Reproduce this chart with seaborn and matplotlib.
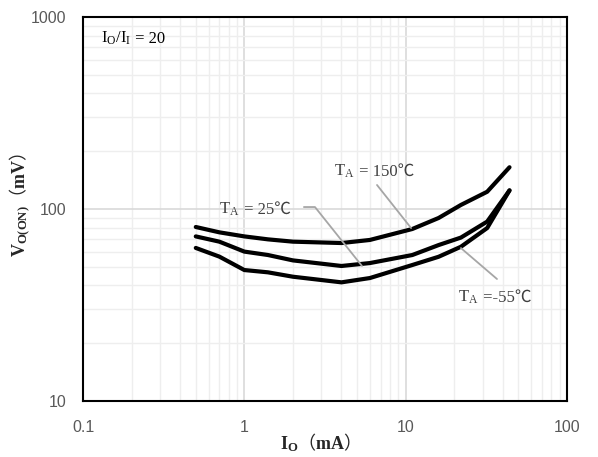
import numpy as np
import pandas as pd
import seaborn as sns
import matplotlib.pyplot as plt
from matplotlib.ticker import LogLocator, FixedLocator, NullFormatter

# values
io_ma = [0.5, 0.7, 1, 1.4, 2, 4, 6, 11, 16, 22, 32, 44]
v_150 = [80.6, 75.6, 72, 69.5, 67.6, 66.5, 69, 78.7, 89.8, 105, 123, 165]
v_25 = [72, 67.6, 60, 57.6, 54, 50.5, 52.3, 57.6, 64.9, 71, 86, 125]
v_m55 = [62.7, 56.5, 48.1, 46.8, 44.4, 41.5, 43.7, 51.1, 56.4, 63.6, 79.6, 125]
temps = ["150", "25", "-55"]

df = pd.DataFrame({
    "io": io_ma * 3,
    "v": v_150 + v_25 + v_m55,
    "temp": [t for t in temps for _ in io_ma],
})

sns.set_theme(style="white")
plt.rcParams['mathtext.fontset'] = 'custom'
plt.rcParams['mathtext.rm'] = 'Liberation Serif'
plt.rcParams['mathtext.it'] = 'Liberation Serif:italic'
plt.rcParams['mathtext.bf'] = 'Liberation Serif:bold'
plt.rcParams['mathtext.sf'] = 'Noto Sans CJK SC:bold'
serif = ['Liberation Serif', 'Noto Sans CJK SC']

fig = plt.figure(figsize=(5.98, 4.57), dpi=100)
ax = fig.add_axes([0.1388, 0.1225, 0.8094, 0.8403])
renderer = fig.canvas.get_renderer()


def rich(x, y, pieces, coords="data", **kw):
    # lay text pieces one after another along the baseline
    off = 0.0
    for s, extra in pieces:
        opts = dict(kw)
        opts.update(extra)
        t = ax.annotate(s, xy=(x, y), xycoords=coords, xytext=(off, 0),
                        textcoords="offset points", ha="left", va="baseline",
                        annotation_clip=False, **opts)
        off += t.get_window_extent(renderer).width * 72 / fig.dpi


sns.lineplot(data=df, x="io", y="v", units="temp", estimator=None,
             color="black", linewidth=3, ax=ax, legend=False, sort=False)
for ln in ax.lines:
    ln.set_solid_capstyle("round")
    ln.set_solid_joinstyle("round")
ax.set_xlabel("")
ax.set_ylabel("")

ax.set_xscale("log")
ax.set_yscale("log")
ax.set_xlim(0.1, 100)
ax.set_ylim(10, 1000)

ax.xaxis.set_major_locator(FixedLocator([0.1, 1, 10, 100]))
ax.yaxis.set_major_locator(FixedLocator([10, 100, 1000]))
ax.set_xticklabels(["0.1", "1", "10", "100"])
ax.set_yticklabels(["10", "100", "1000"])
ax.xaxis.set_minor_locator(LogLocator(base=10, subs=np.arange(2, 10)))
ax.yaxis.set_minor_locator(LogLocator(base=10, subs=np.arange(2, 10)))
ax.xaxis.set_minor_formatter(NullFormatter())
ax.yaxis.set_minor_formatter(NullFormatter())

ax.grid(which="major", color="#d9d9d9", linewidth=1.2)
ax.grid(which="minor", color="#eeeeee", linewidth=1.0)
ax.set_axisbelow(True)
ax.tick_params(which="both", length=0)
ax.tick_params(axis="x", labelsize=11.5, labelcolor="#595959", pad=14)
ax.tick_params(axis="y", labelsize=11.5, labelcolor="#595959", pad=12)
for lab in ax.get_xticklabels() + ax.get_yticklabels():
    lab.set_family("Liberation Sans")
for sp in ax.spines.values():
    sp.set_visible(True)
    sp.set_color("black")
    sp.set_linewidth(1.5)

# axis titles
bold = dict(fontsize=13, color="#262626", va="baseline", ha="center",
            rotation_mode="anchor")
fig.text(315 / 598, 1 - 449 / 457,
         r"$\mathbf{I}_{\mathbf{O}}\mathsf{（}\mathbf{mA}\mathsf{）}$", **bold)
fig.text(25 / 598, 1 - 204.5 / 457,
         r"$\mathbf{V}_{\mathbf{O(ON)}}\mathsf{（}\mathbf{mV}\mathsf{）}$",
         rotation=90, **bold)

# ratio note
rich(0.1293, 732, [(r"$\mathrm{I_O/I_I}$", {}), (" = 20", {})],
     family=serif, fontsize=12, color="black")

# curve labels with leader lines
ann = dict(family=serif, fontsize=12, color="#404040")
lead = dict(color="#a6a6a6", linewidth=1.3)
rich(3.60, 148.6, [(r"$\mathrm{T_A}$", {}), (" = 150℃", {})], **ann)
ax.plot([6.64, 10.8], [133.4, 79.6], **lead)

rich(0.697, 94.2, [(r"$\mathrm{T_A}$", {}), (" = 25℃", {})], **ann)
ax.plot([2.34, 2.74, 5.36], [102.4, 102.4, 50.5], **lead)

rich(21.2, 32.9, [(r"$\mathrm{T_A}$", {}), (" =-55℃", {})], **ann)
ax.plot([22.0, 36.8], [62.6, 43.2], **lead)

fig.savefig("out.png", dpi=100)
